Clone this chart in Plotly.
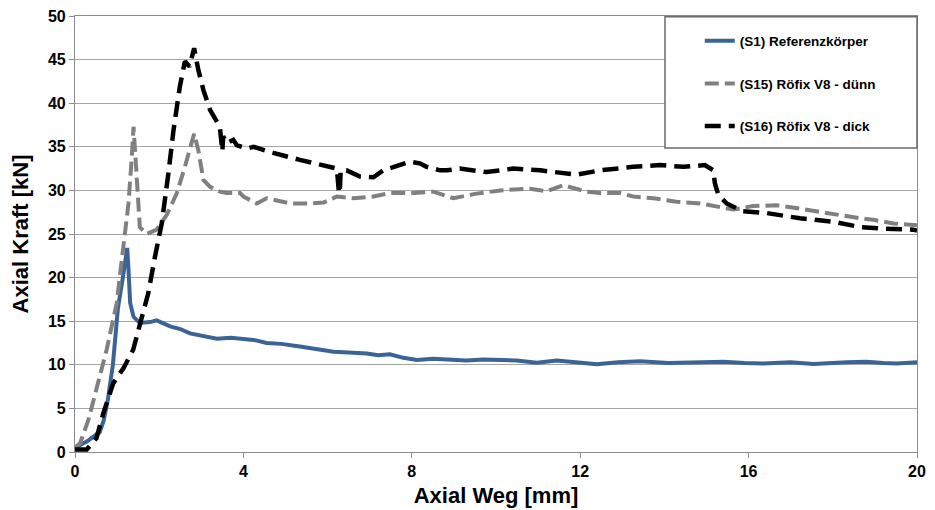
import plotly.graph_objects as go

# (S1) Referenzkörper
s1_x = [0.0, 0.12, 0.28, 0.45, 0.59, 0.68, 0.78, 0.9, 1.02, 1.14, 1.2, 1.24, 1.27, 1.31, 1.39, 1.54,
        1.78, 1.94, 2.26, 2.5, 2.73, 3.05, 3.37, 3.7, 4.08, 4.3, 4.55, 4.9, 5.34, 5.7, 6.14, 6.5,
        6.93, 7.2, 7.48, 7.8, 8.12, 8.5, 8.91, 9.3, 9.7, 10.1, 10.49, 10.97, 11.44, 11.9, 12.39,
        12.9, 13.42, 14.1, 14.77, 15.4, 15.9, 16.35, 17.0, 17.54, 18.33, 18.8, 19.2, 19.52, 20.0]
s1_y = [0.3, 0.8, 1.2, 1.8, 2.3, 3.6, 6.0, 10.0, 16.5, 20.1, 21.8, 23.4, 21.0, 17.1, 15.5, 14.8,
        14.9, 15.1, 14.4, 14.1, 13.6, 13.3, 13.0, 13.1, 12.9, 12.8, 12.5, 12.4, 12.1, 11.8, 11.5, 11.4,
        11.3, 11.1, 11.2, 10.8, 10.55, 10.7, 10.6, 10.5, 10.6, 10.5, 10.5, 10.25, 10.5, 10.3, 10.05,
        10.3, 10.4, 10.2, 10.25, 10.35, 10.2, 10.15, 10.3, 10.1, 10.3, 10.35, 10.2, 10.15, 10.3]

# (S15) Röfix V8 - dünn
s15_x = [0.0, 0.12, 0.32, 0.51, 0.75, 0.99, 1.15, 1.27, 1.35, 1.39, 1.43, 1.47, 1.54, 1.7, 1.94,
         2.18, 2.42, 2.61, 2.73, 2.83, 2.93, 3.05, 3.21, 3.44, 3.6, 3.92, 4.0, 4.32, 4.55, 4.8, 5.11,
         5.58, 5.9, 6.22, 6.61, 7.09, 7.48, 8.04, 8.51, 8.99, 9.5, 10.1, 10.81, 11.2, 11.6, 12.15,
         12.47, 12.95, 13.26, 13.74, 14.05, 14.29, 14.85, 15.24, 15.64, 16.1, 16.67, 17.22, 17.6,
         18.0, 18.65, 19.0, 19.44, 20.0]
s15_y = [0.5, 1.0, 3.7, 7.1, 11.7, 17.05, 23.2, 28.5, 33.9, 37.3, 34.3, 30.4, 25.8, 25.0, 25.5,
         27.2, 29.7, 32.7, 35.0, 36.5, 34.6, 31.2, 30.4, 29.85, 29.7, 29.7, 29.3, 28.5, 29.1, 28.8, 28.5,
         28.5, 28.6, 29.3, 29.1, 29.3, 29.7, 29.7, 29.85, 29.1, 29.6, 30.0, 30.2, 29.9, 30.6, 29.85,
         29.7, 29.7, 29.3, 29.1, 28.9, 28.7, 28.5, 28.1, 27.8, 28.2, 28.3, 27.9, 27.6,
         27.2, 26.8, 26.6, 26.2, 26.0]

# (S16) Röfix V8 - dick
s16_x = [0.0, 0.28, 0.51, 0.67, 0.91, 1.15, 1.38, 1.54, 1.74, 1.9, 2.06, 2.22, 2.34, 2.49, 2.61,
         2.72, 2.83, 2.93, 3.05, 3.21, 3.37, 3.44, 3.5, 3.52, 3.6, 3.76, 3.84, 4.08, 4.24, 4.71, 5.34,
         5.82, 6.22, 6.27, 6.29, 6.31, 6.45, 6.77, 7.09, 7.32, 7.72, 7.96, 8.19, 8.35, 8.67, 8.83,
         9.14, 9.78, 10.41, 11.05, 11.92, 12.47, 13.26, 13.66, 13.9, 14.45, 14.96, 15.16, 15.2, 15.28,
         15.48, 15.87, 16.43, 17.22, 18.01, 18.65, 19.2, 19.91, 20.0]
s16_y = [0.3, 0.3, 1.6, 4.4, 7.9, 9.6, 11.7, 14.4, 18.2, 22.4, 26.2, 32.0, 36.9, 41.9, 44.8,
         44.2, 46.3, 43.8, 41.5, 39.2, 37.7, 37.3, 34.5, 36.2, 35.4, 35.8, 35.2, 34.8, 35.0, 34.3, 33.5,
         32.9, 32.5, 29.7, 29.7, 32.3, 32.3, 31.6, 31.5, 32.3, 32.9, 33.3, 33.1, 32.7, 32.3, 32.3,
         32.5, 32.1, 32.5, 32.3, 31.8, 32.3, 32.7, 32.9, 32.9, 32.7, 32.9, 32.3, 30.8, 29.5,
         28.5, 27.6, 27.4, 26.8, 26.4, 25.8, 25.6, 25.5, 25.4]

names = ["(S1) Referenzkörper", "(S15) Röfix V8 - dünn", "(S16) Röfix V8 - dick"]
x_ticks = [0, 4, 8, 12, 16, 20]
y_ticks = [0, 5, 10, 15, 20, 25, 30, 35, 40, 45, 50]

FONT = "Liberation Sans, Arial, sans-serif"

fig = go.Figure()
fig.add_trace(go.Scatter(x=s1_x, y=s1_y, mode="lines", name=names[0], legendgroup="a",
                         line=dict(color="#3A6496", width=4)))
fig.add_trace(go.Scatter(x=s15_x, y=s15_y, mode="lines", name=names[1], legendgroup="b",
                         line=dict(color="#808080", width=4, dash="14px,6px")))
fig.add_trace(go.Scatter(x=s16_x, y=s16_y, mode="lines", name=names[2], legendgroup="c",
                         line=dict(color="#000000", width=4.5, dash="16px,8px")))

fig.add_shape(type="rect", xref="paper", yref="paper", x0=0.7007, x1=1.0, y0=0.697, y1=0.998,
              line=dict(color="#6A6A6A", width=1.5), fillcolor="white", layer="above")

# page body adds an 8px offset, so the figure is 8px smaller and margins are shifted
fig.update_layout(
    width=927, height=502,
    margin=dict(l=67, r=18, t=8, b=58),
    paper_bgcolor="white", plot_bgcolor="white",
    font=dict(family=FONT, color="#000000"),
    showlegend=True,
    legend=dict(x=0.742, y=0.978, xanchor="left", yanchor="top",
                bgcolor="rgba(0,0,0,0)", borderwidth=0, tracegroupgap=22,
                font=dict(family=FONT, size=13.5, weight="bold", color="#000000")),
    xaxis=dict(range=[0, 20], tickvals=x_ticks, showgrid=False, zeroline=False, automargin=False,
               showline=True, linecolor="#8C8C8C", linewidth=1.2, mirror=True,
               ticks="outside", ticklen=5, tickcolor="#8C8C8C", ticklabeloverflow="allow",
               tickfont=dict(family=FONT, size=16, weight="bold"),
               title=dict(text="Axial Weg [mm]", standoff=8,
                          font=dict(family=FONT, size=22, weight="bold"))),
    yaxis=dict(range=[0, 50], tickvals=y_ticks, showgrid=True, gridcolor="#A6A6A6", gridwidth=1,
               zeroline=False, showline=True, linecolor="#8C8C8C", linewidth=1.2, mirror=True,
               automargin=False, ticklabeloverflow="allow",
               ticks="outside", ticklen=5, tickcolor="#8C8C8C",
               tickfont=dict(family=FONT, size=16, weight="bold"),
               title=dict(text="Axial Kraft [kN]", standoff=20,
                          font=dict(family=FONT, size=22, weight="bold"))),
)

fig.write_html("out.html")
